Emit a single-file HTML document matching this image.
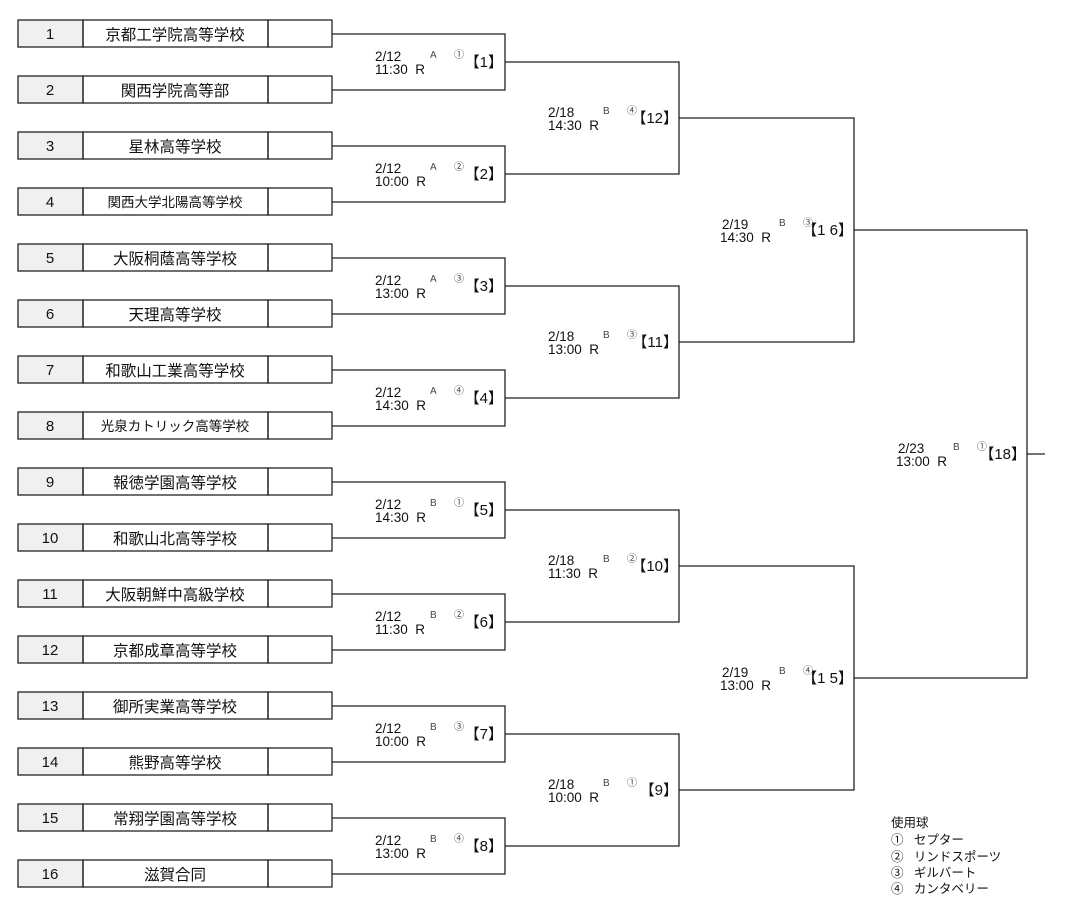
<!DOCTYPE html>
<html><head><meta charset="utf-8"><style>
body{margin:0;background:#fff}
svg{display:block}
text{font-family:"Liberation Sans","Noto Sans CJK JP",sans-serif;fill:#111}
.n{font-size:15px;text-anchor:middle}
.s{font-size:15.5px;text-anchor:middle}
.s2{font-size:13.5px;text-anchor:middle}
.d{font-size:13.5px}
.c{font-size:10px;fill:#444}
.b{font-size:15px;text-anchor:end}
.l{font-size:12.5px}
</style></head><body>
<svg width="1065" height="909" viewBox="0 0 1065 909">
<g stroke="#222" stroke-width="1.3" fill="none">
<g>
<rect x="18" y="20" width="65" height="27" fill="#f0f0f0"/><rect x="83" y="20" width="185" height="27"/><rect x="268" y="20" width="64" height="27"/>
<rect x="18" y="76" width="65" height="27" fill="#f0f0f0"/><rect x="83" y="76" width="185" height="27"/><rect x="268" y="76" width="64" height="27"/>
<rect x="18" y="132" width="65" height="27" fill="#f0f0f0"/><rect x="83" y="132" width="185" height="27"/><rect x="268" y="132" width="64" height="27"/>
<rect x="18" y="188" width="65" height="27" fill="#f0f0f0"/><rect x="83" y="188" width="185" height="27"/><rect x="268" y="188" width="64" height="27"/>
<rect x="18" y="244" width="65" height="27" fill="#f0f0f0"/><rect x="83" y="244" width="185" height="27"/><rect x="268" y="244" width="64" height="27"/>
<rect x="18" y="300" width="65" height="27" fill="#f0f0f0"/><rect x="83" y="300" width="185" height="27"/><rect x="268" y="300" width="64" height="27"/>
<rect x="18" y="356" width="65" height="27" fill="#f0f0f0"/><rect x="83" y="356" width="185" height="27"/><rect x="268" y="356" width="64" height="27"/>
<rect x="18" y="412" width="65" height="27" fill="#f0f0f0"/><rect x="83" y="412" width="185" height="27"/><rect x="268" y="412" width="64" height="27"/>
<rect x="18" y="468" width="65" height="27" fill="#f0f0f0"/><rect x="83" y="468" width="185" height="27"/><rect x="268" y="468" width="64" height="27"/>
<rect x="18" y="524" width="65" height="27" fill="#f0f0f0"/><rect x="83" y="524" width="185" height="27"/><rect x="268" y="524" width="64" height="27"/>
<rect x="18" y="580" width="65" height="27" fill="#f0f0f0"/><rect x="83" y="580" width="185" height="27"/><rect x="268" y="580" width="64" height="27"/>
<rect x="18" y="636" width="65" height="27" fill="#f0f0f0"/><rect x="83" y="636" width="185" height="27"/><rect x="268" y="636" width="64" height="27"/>
<rect x="18" y="692" width="65" height="27" fill="#f0f0f0"/><rect x="83" y="692" width="185" height="27"/><rect x="268" y="692" width="64" height="27"/>
<rect x="18" y="748" width="65" height="27" fill="#f0f0f0"/><rect x="83" y="748" width="185" height="27"/><rect x="268" y="748" width="64" height="27"/>
<rect x="18" y="804" width="65" height="27" fill="#f0f0f0"/><rect x="83" y="804" width="185" height="27"/><rect x="268" y="804" width="64" height="27"/>
<rect x="18" y="860" width="65" height="27" fill="#f0f0f0"/><rect x="83" y="860" width="185" height="27"/><rect x="268" y="860" width="64" height="27"/>
</g>
<path d="M332 34H505V90H332"/><path d="M332 146H505V202H332"/>
<path d="M332 258H505V314H332"/><path d="M332 370H505V426H332"/>
<path d="M332 482H505V538H332"/><path d="M332 594H505V650H332"/>
<path d="M332 706H505V762H332"/><path d="M332 818H505V874H332"/>
<path d="M505 62H679V174H505"/><path d="M505 286H679V398H505"/>
<path d="M505 510H679V622H505"/><path d="M505 734H679V846H505"/>
<path d="M679 118H854V342H679"/><path d="M679 566H854V790H679"/>
<path d="M854 230H1027V678H854"/><path d="M1027 454H1045"/>
</g>
<g>
<text class="n" x="50" y="39">1</text><text class="s" x="175" y="40">京都工学院高等学校</text>
<text class="n" x="50" y="95">2</text><text class="s" x="175" y="96">関西学院高等部</text>
<text class="n" x="50" y="151">3</text><text class="s" x="175" y="152">星林高等学校</text>
<text class="n" x="50" y="207">4</text><text class="s2" x="175" y="207">関西大学北陽高等学校</text>
<text class="n" x="50" y="263">5</text><text class="s" x="175" y="264">大阪桐蔭高等学校</text>
<text class="n" x="50" y="319">6</text><text class="s" x="175" y="320">天理高等学校</text>
<text class="n" x="50" y="375">7</text><text class="s" x="175" y="376">和歌山工業高等学校</text>
<text class="n" x="50" y="431">8</text><text class="s2" x="175" y="431">光泉カトリック高等学校</text>
<text class="n" x="50" y="487">9</text><text class="s" x="175" y="488">報徳学園高等学校</text>
<text class="n" x="50" y="543">10</text><text class="s" x="175" y="544">和歌山北高等学校</text>
<text class="n" x="50" y="599">11</text><text class="s" x="175" y="600">大阪朝鮮中高級学校</text>
<text class="n" x="50" y="655">12</text><text class="s" x="175" y="656">京都成章高等学校</text>
<text class="n" x="50" y="711">13</text><text class="s" x="175" y="712">御所実業高等学校</text>
<text class="n" x="50" y="767">14</text><text class="s" x="175" y="768">熊野高等学校</text>
<text class="n" x="50" y="823">15</text><text class="s" x="175" y="824">常翔学園高等学校</text>
<text class="n" x="50" y="879">16</text><text class="s" x="175" y="880">滋賀合同</text>
</g>
<g>
<text class="d" x="375" y="61">2/12</text><text class="d" x="375" y="74">11:30&#160; R</text><text class="c" x="430" y="58">A</text><text class="c" x="454" y="58">①</text><text class="b" x="503" y="67">【1】</text>
<text class="d" x="375" y="173">2/12</text><text class="d" x="375" y="186">10:00&#160; R</text><text class="c" x="430" y="170">A</text><text class="c" x="454" y="170">②</text><text class="b" x="503" y="179">【2】</text>
<text class="d" x="375" y="285">2/12</text><text class="d" x="375" y="298">13:00&#160; R</text><text class="c" x="430" y="282">A</text><text class="c" x="454" y="282">③</text><text class="b" x="503" y="291">【3】</text>
<text class="d" x="375" y="397">2/12</text><text class="d" x="375" y="410">14:30&#160; R</text><text class="c" x="430" y="394">A</text><text class="c" x="454" y="394">④</text><text class="b" x="503" y="403">【4】</text>
<text class="d" x="375" y="509">2/12</text><text class="d" x="375" y="522">14:30&#160; R</text><text class="c" x="430" y="506">B</text><text class="c" x="454" y="506">①</text><text class="b" x="503" y="515">【5】</text>
<text class="d" x="375" y="621">2/12</text><text class="d" x="375" y="634">11:30&#160; R</text><text class="c" x="430" y="618">B</text><text class="c" x="454" y="618">②</text><text class="b" x="503" y="627">【6】</text>
<text class="d" x="375" y="733">2/12</text><text class="d" x="375" y="746">10:00&#160; R</text><text class="c" x="430" y="730">B</text><text class="c" x="454" y="730">③</text><text class="b" x="503" y="739">【7】</text>
<text class="d" x="375" y="845">2/12</text><text class="d" x="375" y="858">13:00&#160; R</text><text class="c" x="430" y="842">B</text><text class="c" x="454" y="842">④</text><text class="b" x="503" y="851">【8】</text>
<text class="d" x="548" y="117">2/18</text><text class="d" x="548" y="130">14:30&#160; R</text><text class="c" x="603" y="114">B</text><text class="c" x="627" y="114">④</text><text class="b" x="678" y="123">【12】</text>
<text class="d" x="548" y="341">2/18</text><text class="d" x="548" y="354">13:00&#160; R</text><text class="c" x="603" y="338">B</text><text class="c" x="627" y="338">③</text><text class="b" x="678" y="347">【11】</text>
<text class="d" x="548" y="565">2/18</text><text class="d" x="548" y="578">11:30&#160; R</text><text class="c" x="603" y="562">B</text><text class="c" x="627" y="562">②</text><text class="b" x="678" y="571">【10】</text>
<text class="d" x="548" y="789">2/18</text><text class="d" x="548" y="802">10:00&#160; R</text><text class="c" x="603" y="786">B</text><text class="c" x="627" y="786">①</text><text class="b" x="678" y="795">【9】</text>
<text class="d" x="722" y="229">2/19</text><text class="d" x="720" y="242">14:30&#160; R</text><text class="c" x="779" y="226">B</text><text class="c" x="803" y="226">③</text><text class="b" x="853" y="235">【1 6】</text>
<text class="d" x="722" y="677">2/19</text><text class="d" x="720" y="690">13:00&#160; R</text><text class="c" x="779" y="674">B</text><text class="c" x="803" y="674">④</text><text class="b" x="853" y="683">【1 5】</text>
<text class="d" x="898" y="453">2/23</text><text class="d" x="896" y="466">13:00&#160; R</text><text class="c" x="953" y="450">B</text><text class="c" x="977" y="450">①</text><text class="b" x="1026" y="459">【18】</text>
<text class="l" x="891" y="827">使用球</text>
<text class="l" x="891" y="844">①&#160;&#160; セプター</text>
<text class="l" x="891" y="861">②&#160;&#160; リンドスポーツ</text>
<text class="l" x="891" y="877">③&#160;&#160; ギルバート</text>
<text class="l" x="891" y="893">④&#160;&#160; カンタベリー</text>
</g>
</svg>
</body></html>
